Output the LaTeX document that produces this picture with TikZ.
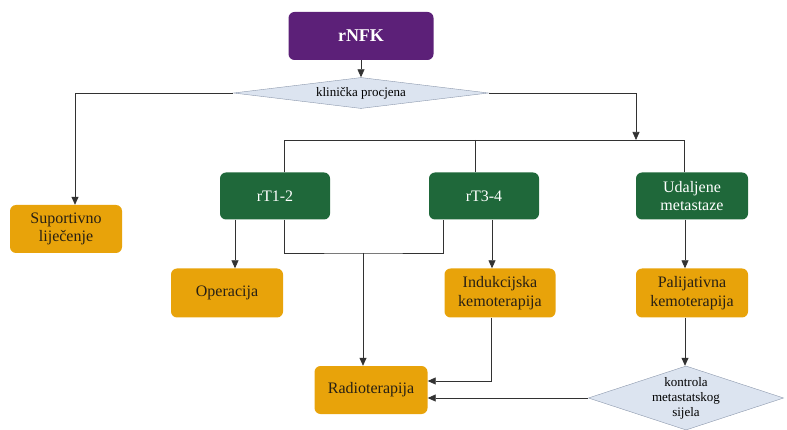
\documentclass[tikz,border=0pt]{standalone}
\usepackage{fontspec}
\setmainfont{Liberation Serif}
\usepackage{tikz}
\usetikzlibrary{arrows.meta}
\usetikzlibrary{shapes.geometric}

\definecolor{rnfkpurple}{RGB}{92,32,120}
\definecolor{stagegreen}{RGB}{31,104,58}
\definecolor{therapyorange}{RGB}{232,163,10}
\definecolor{textdark}{RGB}{40,32,20}
\definecolor{diamondfill}{RGB}{220,228,240}
\definecolor{diamondedge}{RGB}{140,152,172}
\definecolor{linegray}{RGB}{50,50,50}

\tikzset{
  box/.style={rectangle,rounded corners=6pt,inner sep=2pt,align=center,
    font=\fontsize{16}{18.5}\selectfont},
  purplebox/.style={box,fill=rnfkpurple,text=white,
    font=\bfseries\fontsize{18}{20}\selectfont,
    minimum width=145pt,minimum height=48pt},
  greenbox/.style={box,fill=stagegreen,text=white,
    minimum width=110pt,minimum height=47pt},
  orangebox/.style={box,fill=therapyorange,text=textdark,
    minimum width=112pt,minimum height=49pt},
  decision/.style={diamond,draw=diamondedge,fill=diamondfill,inner sep=0pt,
    align=center,font=\fontsize{13}{15}\selectfont},
  link/.style={draw=linegray,line width=0.7pt},
  arrow/.style={link,-{Triangle[length=8pt,width=7pt]}}
}

\begin{document}
\begin{tikzpicture}[x=1pt,y=-1pt]
  \useasboundingbox
    (0,0)
    rectangle
    (787,430);
  % boxes
  \node[purplebox] (rnfk) at (361,36) {rNFK};
  \node[decision,minimum width=255pt,minimum height=31pt,aspect=8.2]
    (klin) at (361,93) {klinička procjena};
  \node[orangebox,minimum width=112pt,minimum height=48pt]
    (sup) at (66,229) {Suportivno\\liječenje};
  \node[greenbox] (t12) at (275,196) {rT1-2};
  \node[greenbox] (t34) at (484,196) {rT3-4};
  \node[greenbox,minimum width=112pt] (uda) at (692,196) {Udaljene\\metastaze};
  \node[orangebox] (op) at (227,293) {Operacija};
  \node[orangebox,minimum width=111pt] (ind) at (500,293) {Indukcijska\\kemoterapija};
  \node[orangebox] (pal) at (692,293) {Palijativna\\kemoterapija};
  \node[orangebox,minimum width=113pt,minimum height=48pt]
    (radio) at (371,390) {Radioterapija};
  \node[decision,minimum width=195pt,minimum height=64pt,aspect=3.05]
    (ctrl) at (686,398) {kontrola\\metastatskog\\sijela};
  % junctions
  \coordinate (split) at (636,140);
  \coordinate (barL) at (284,140);
  \coordinate (barM) at (475,140);
  \coordinate (barR) at (684,140);
  \coordinate (join) at (363,253);
  % top part
  \draw[arrow]
    (rnfk.south)
    --
    (klin.north);
  \draw[arrow]
    (klin.west)
    -|
    ([xshift=9pt]sup.north);
  \draw[arrow]
    (klin.east)
    -|
    (split);
  \draw[link]
    (t12.north -| barL)
    --
    (barL)
    --
    (barR)
    --
    (uda.north -| barR);
  \draw[link]
    (barM)
    --
    (t34.north -| barM);
  % lower part
  \draw[arrow]
    (t12.south -| 235,0)
    --
    (op.north -| 235,0);
  \draw[link]
    (t12.south -| barL)
    |-
    (join)
    -|
    (t34.south -| 443,0);
  \draw[arrow]
    (join)
    --
    (radio.north -| join);
  \draw[arrow]
    (t34.south -| 492,0)
    --
    (ind.north -| 492,0);
  \draw[arrow]
    (ind.south -| 491,0)
    |-
    ([yshift=9pt]radio.east);
  \draw[arrow]
    (uda.south -| 685,0)
    --
    (pal.north -| 685,0);
  \draw[arrow]
    (pal.south -| 685,0)
    --
    (ctrl.north -| 685,0);
  \draw[arrow]
    (ctrl.west)
    --
    (radio.east |- ctrl.west);
\end{tikzpicture}
\end{document}
